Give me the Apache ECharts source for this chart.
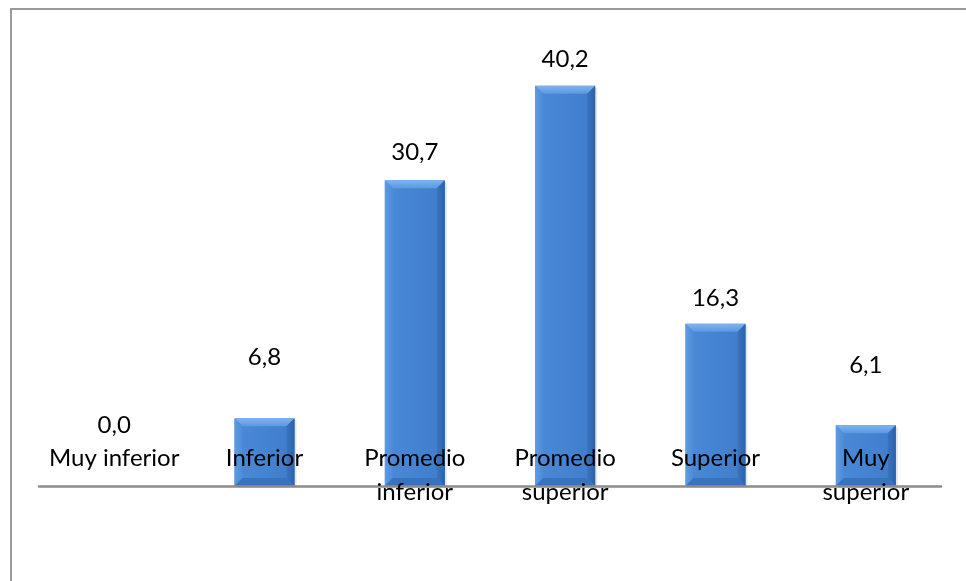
<!DOCTYPE html>
<html>
<head>
<meta charset="utf-8">
<style>
  html, body { margin: 0; padding: 0; background: #ffffff; }
  #chart { width: 966px; height: 581px; }
</style>
<script src="https://cdn.jsdelivr.net/npm/echarts@6/dist/echarts.min.js"></script>
</head>
<body>
<div id="chart"></div>
<script>
// Categories and percentages per level
const categories = ['Muy inferior', 'Inferior', 'Promedio\ninferior', 'Promedio\nsuperior', 'Superior', 'Muy\nsuperior'];
const values = [0.0, 6.8, 30.7, 40.2, 16.3, 6.1];

// Per-bar distance (px) from bar top to centre of its value label
const labelGap = [61, 61, 28, 27, 25, 60];

const FONT = 'Lato, "Noto Sans", sans-serif';
const BAR_W = 60;
const BEVEL = 8;

const chart = echarts.init(document.getElementById('chart'));

function grad(x0, y0, x1, y1, c0, c1) {
  return new echarts.graphic.LinearGradient(x0, y0, x1, y1, [
    { offset: 0, color: c0 }, { offset: 1, color: c1 }
  ]);
}

function renderBar(params, api) {
  const idx = params.dataIndex;
  const v = api.value(1);
  const top = api.coord([api.value(0), v]);
  const base = api.coord([api.value(0), 0]);
  const x0 = top[0] - BAR_W / 2, x1 = top[0] + BAR_W / 2;
  const y0 = top[1], y1 = base[1];
  const h = y1 - y0;
  const children = [];
  if (h > 0.5) {
    const b = Math.min(BEVEL, h / 2);
    children.push(
      { type: 'rect', shape: { x: x0 + 1, y: y0 + 2, width: BAR_W + 1, height: h }, style: { fill: 'rgba(0,0,0,0.10)' } },
      { type: 'rect', shape: { x: x0, y: y0, width: BAR_W, height: h }, style: { fill: grad(0, 0, 1, 0, '#4a8ad7', '#3f7dcb') } },
      { type: 'polygon', shape: { points: [[x0, y0], [x1, y0], [x1 - b, y0 + b], [x0 + b, y0 + b]] }, style: { fill: grad(0, 0, 0, 1, '#7fb3ef', '#5a98e0') } },
      { type: 'polygon', shape: { points: [[x0, y0], [x0 + b, y0 + b], [x0 + b, y1 - b], [x0, y1]] }, style: { fill: grad(0, 0, 1, 0, '#5f9be2', '#4d8bd8') } },
      { type: 'polygon', shape: { points: [[x1, y0], [x1, y1], [x1 - b, y1 - b], [x1 - b, y0 + b]] }, style: { fill: grad(0, 0, 1, 0, '#3a74c0', '#2c61aa') } },
      { type: 'polygon', shape: { points: [[x0, y1], [x0 + b, y1 - b], [x1 - b, y1 - b], [x1, y1]] }, style: { fill: '#3a73bd' } }
    );
  }
  children.push({
    type: 'text',
    style: {
      x: top[0], y: y0 - labelGap[idx],
      text: v.toFixed(1).replace('.', ','),
      fill: '#000000', font: '24px ' + FONT,
      align: 'center', verticalAlign: 'middle'
    }
  });
  return { type: 'group', children: children };
}

chart.setOption({
  animation: false,
  backgroundColor: '#ffffff',
  graphic: [
    { type: 'line', shape: { x1: 10, y1: 9, x2: 966, y2: 9 }, style: { stroke: '#9a9a9a', lineWidth: 2 } },
    { type: 'line', shape: { x1: 11, y1: 8, x2: 11, y2: 581 }, style: { stroke: '#9a9a9a', lineWidth: 2 } }
  ],
  grid: { left: 39, right: 25, top: 38, bottom: 95 },
  xAxis: {
    type: 'category',
    data: categories,
    axisLine: { show: true, lineStyle: { color: '#8c8c8c', width: 2.5 } },
    axisTick: { show: false },
    axisLabel: {
      interval: 0,
      margin: -45,
      verticalAlign: 'top',
      color: '#000000',
      fontFamily: FONT,
      fontSize: 24,
      lineHeight: 34
    },
    z: 10
  },
  yAxis: {
    type: 'value',
    min: 0, max: 45,
    show: false
  },
  series: [{
    type: 'custom',
    renderItem: renderBar,
    data: values.map((v, i) => [i, v]),
    encode: { x: 0, y: 1 },
    z: 2
  }]
});
</script>
</body>
</html>
